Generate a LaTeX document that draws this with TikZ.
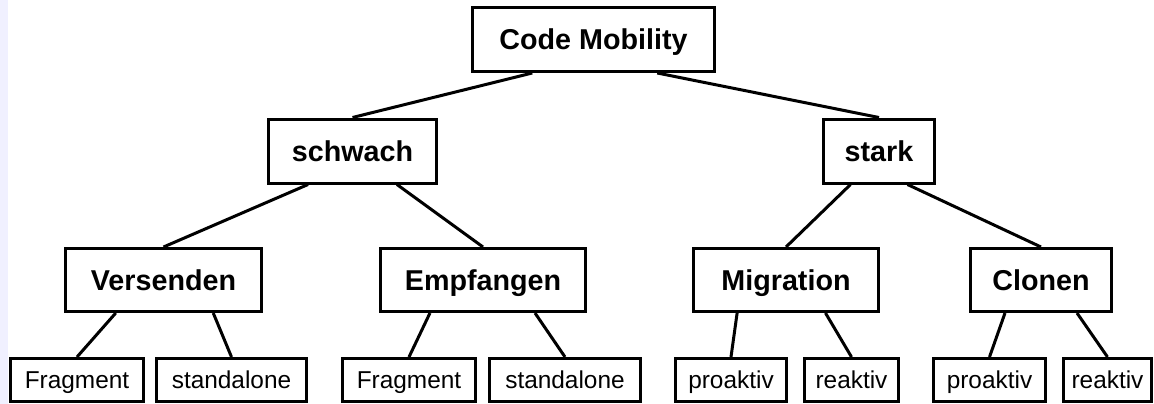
\documentclass[tikz,border=0pt]{standalone}
\usepackage{fontspec}
\setmainfont{Liberation Sans}
\usetikzlibrary{calc}

\tikzset{
  box/.style={draw=black, line width=3pt, fill=white, rectangle, inner sep=0pt,
              anchor=center, text depth=0pt},
  bigbox/.style={box, font=\fontsize{28.7}{34}\selectfont\bfseries,
                 text height=20.5pt, minimum height=64pt},
  leafbox/.style={box, font=\fontsize{24.4}{29}\selectfont,
                  text height=17.5pt, minimum height=43pt},
  link/.style={draw=black, line width=3pt}
}

% connector from a point on the parent's bottom edge to the child's top centre
\newcommand{\branch}[3]{%
  \draw[link] ($(#1.south west)!#2!(#1.south east)$) -- (#3.north);}

\begin{document}
\begin{tikzpicture}[x=1pt, y=-1pt]
  \useasboundingbox (0,0) rectangle (1154,404);
  \fill[white] (0,0) rectangle (1154,404);
  \fill[blue!6!white] (0,0) rectangle (8,404);

  % level 0
  \node[bigbox, minimum width=242pt] (cm) at (593.5,39.5) {Code Mobility};

  % level 1
  \node[bigbox, minimum width=168pt] (schwach) at (352.5,151) {schwach};
  \node[bigbox, minimum width=111pt] (stark)   at (879,151)   {stark};

  % level 2
  \node[bigbox, minimum width=196pt, minimum height=63pt] (vers)  at (163.5,280) {Versenden};
  \node[bigbox, minimum width=205pt, minimum height=63pt] (empf)  at (483,280)   {Empfangen};
  \node[bigbox, minimum width=185pt, minimum height=63pt] (migr)  at (786,280)   {Migration};
  \node[bigbox, minimum width=141pt, minimum height=63pt] (clon)  at (1041,280)  {Clonen};

  % level 3
  \node[leafbox, minimum width=133pt] (frag1) at (77,380)     {Fragment};
  \node[leafbox, minimum width=150pt] (stan1) at (231.5,380)  {standalone};
  \node[leafbox, minimum width=133pt] (frag2) at (409,380)    {Fragment};
  \node[leafbox, minimum width=151pt] (stan2) at (565,380)    {standalone};
  \node[leafbox, minimum width=111pt] (pro1)  at (731,380)    {proaktiv};
  \node[leafbox, minimum width=94pt]  (rea1)  at (851.5,380)  {reaktiv};
  \node[leafbox, minimum width=112pt] (pro2)  at (989.5,380)  {proaktiv};
  \node[leafbox, minimum width=88pt]  (rea2)  at (1107.5,380) {reaktiv};

  % connectors
  \branch{cm}{0.25}{schwach}
  \branch{cm}{0.76}{stark}
  \branch{schwach}{0.24}{vers}
  \branch{schwach}{0.76}{empf}
  \branch{stark}{0.25}{migr}
  \branch{stark}{0.75}{clon}
  \branch{vers}{0.26}{frag1}
  \branch{vers}{0.75}{stan1}
  \branch{empf}{0.245}{frag2}
  \branch{empf}{0.75}{stan2}
  \branch{migr}{0.24}{pro1}
  \branch{migr}{0.71}{rea1}
  \branch{clon}{0.25}{pro2}
  \branch{clon}{0.75}{rea2}
\end{tikzpicture}
\end{document}
